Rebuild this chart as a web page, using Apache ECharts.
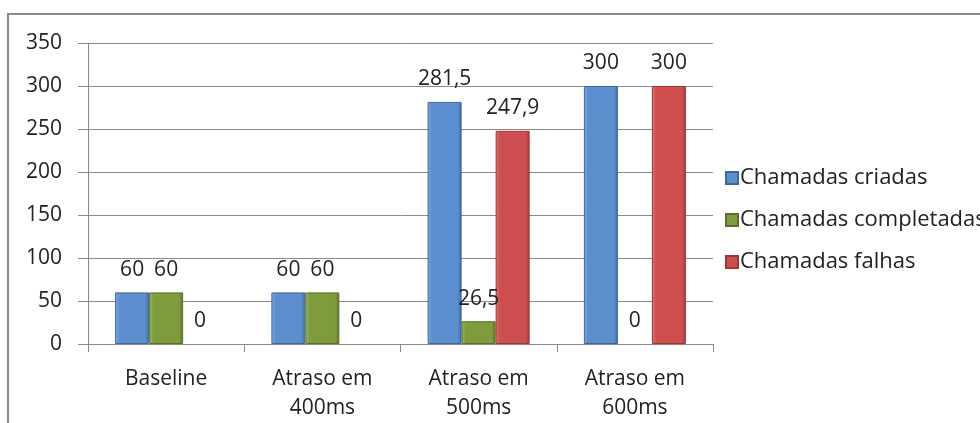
<!DOCTYPE html>
<html>
<head>
<meta charset="utf-8">
<script src="https://cdn.jsdelivr.net/npm/echarts@6/dist/echarts.min.js"></script>
<style>
  html, body { margin: 0; padding: 0; background: #fff; }
  #main { width: 980px; height: 423px; }
</style>
</head>
<body>
<div id="main"></div>
<script>
// dados do gráfico
var categorias = ['Baseline', 'Atraso em\n400ms', 'Atraso em\n500ms', 'Atraso em\n600ms'];
var criadas = [60, 60, 281.5, 300];
var completadas = [60, 60, 26.5, 0];
var falhas = [0, 0, 247.9, 300];
var nomes = ['Chamadas criadas', 'Chamadas completadas', 'Chamadas falhas'];

var fonte = '"Open Sans", Lato, sans-serif';

// gradiente horizontal imitando o bisel do Excel
function bisel(claro, base, escuro) {
  return new echarts.graphic.LinearGradient(0, 0, 1, 0, [
    { offset: 0, color: claro },
    { offset: 0.12, color: base },
    { offset: 0.88, color: base },
    { offset: 1, color: escuro }
  ]);
}

function serie(nome, dados, cores, borda) {
  return {
    name: nome,
    type: 'bar',
    // barra de valor zero sem contorno
    data: dados.map(function (v) {
      return v === 0 ? { value: v, itemStyle: { borderWidth: 0 } } : v;
    }),
    barWidth: 34,
    barGap: '0%',
    itemStyle: {
      color: bisel(cores[0], cores[1], cores[2]),
      borderColor: borda,
      borderWidth: 1
    },
    label: {
      show: true,
      position: 'top',
      distance: 12,
      color: '#222',
      fontSize: 21,
      fontFamily: fonte,
      formatter: function (p) { return String(p.value).replace('.', ','); }
    }
  };
}

var myChart = echarts.init(document.getElementById('main'));
var option = {
  animation: false,
  graphic: [{
    type: 'rect',
    shape: { x: 8, y: 14, width: 1000, height: 500 },
    style: { fill: 'none', stroke: '#8a8a8a', lineWidth: 2 }
  }],
  color: ['#5b8fd0', '#7f9c3c', '#cf4f4e'],
  legend: {
    orient: 'vertical',
    left: 720,
    top: 162,
    itemWidth: 12,
    itemHeight: 12,
    itemGap: 20,
    icon: 'rect',
    textStyle: { fontSize: 22, color: '#222', fontFamily: fonte, padding: [0, 0, 0, -3] },
    data: nomes
  },
  grid: { left: 88, right: 267, top: 43, bottom: 75 },
  xAxis: {
    type: 'category',
    data: categorias,
    axisLine: { lineStyle: { color: '#8a8a8a', width: 1 } },
    axisTick: { show: true, length: 8, lineStyle: { color: '#8a8a8a' } },
    axisLabel: { color: '#222', fontSize: 21, fontFamily: fonte, margin: 21, lineHeight: 29 }
  },
  yAxis: {
    type: 'value',
    min: 0,
    max: 350,
    interval: 50,
    axisLine: { show: true, lineStyle: { color: '#8a8a8a' } },
    axisTick: { show: true, length: 10, lineStyle: { color: '#8a8a8a' } },
    splitLine: { lineStyle: { color: '#8a8a8a', width: 1 } },
    axisLabel: { color: '#222', fontSize: 21, fontFamily: fonte, margin: 26 }
  },
  series: [
    serie(nomes[0], criadas, ['#7eaee6', '#5b8fd0', '#3f6aa4'], '#3c679f'),
    serie(nomes[1], completadas, ['#9fbf5c', '#7f9c3c', '#5d7528'], '#5a7226'),
    serie(nomes[2], falhas, ['#e27574', '#cf4f4e', '#a33a39'], '#9c3736')
  ]
};
myChart.setOption(option);
</script>
</body>
</html>
